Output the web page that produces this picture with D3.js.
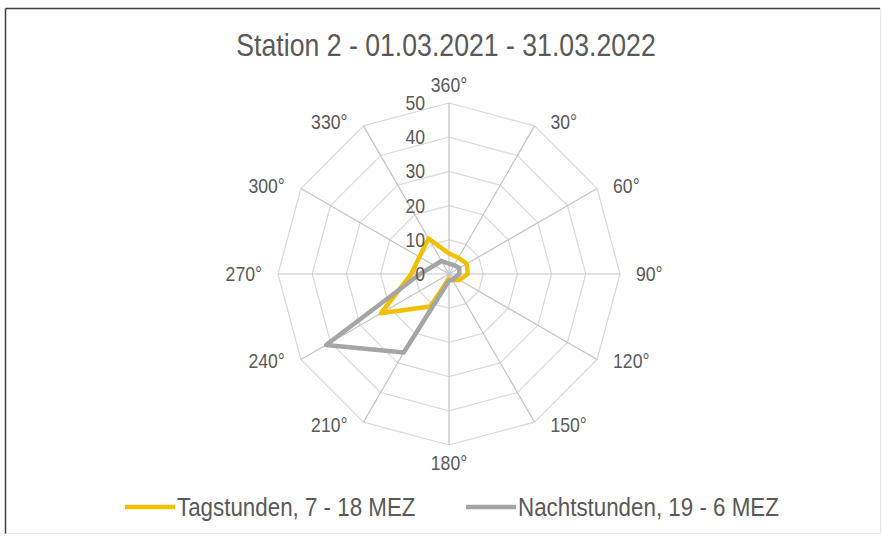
<!DOCTYPE html>
<html><head><meta charset="utf-8">
<script src="https://cdn.jsdelivr.net/npm/d3@7"></script>
<style>
html,body{margin:0;padding:0;background:#fff;}
text{font-family:"Liberation Sans",Arial,sans-serif;fill:#595959;}
</style></head>
<body>
<svg id="chart" width="882" height="538"></svg>
<script>
const title = "Station 2 - 01.03.2021 - 31.03.2022";
const directions = ["360°","30°","60°","90°","120°","150°","180°","210°","240°","270°","300°","330°"];
const radialTicks = [0, 10, 20, 30, 40, 50];
const seriesNames = ["Tagstunden, 7 - 18 MEZ", "Nachtstunden, 19 - 6 MEZ"];
const tagValues   = [6, 5.5, 6, 5.5, 3.5, 2, 1.5, 11, 23, 11, 10, 12];
const nachtValues = [3, 3, 3.5, 3, 2, 2, 2, 26.5, 41.5, 8.5, 5, 4.4];
const seriesColors = ["#F2C000", "#A5A5A5"];

const svg = d3.select("#chart");
const cx = 449, cy = 274, R = 171;

// narrow-looking text helper (horizontal squeeze)
function addText(x, y, str, size, anchor, k) {
  return svg.append("text")
    .attr("transform", `translate(${x},${y}) scale(${k},1)`)
    .attr("text-anchor", anchor).attr("dominant-baseline", "central")
    .style("font-size", size + "px").text(str);
}

// frame
svg.append("line").attr("x1",5.5).attr("y1",8.5).attr("x2",880).attr("y2",8.5).attr("stroke","#404040").attr("stroke-width",1.5);
svg.append("line").attr("x1",5.5).attr("y1",8.5).attr("x2",5.5).attr("y2",534).attr("stroke","#404040").attr("stroke-width",1.5);
svg.append("line").attr("x1",880.5).attr("y1",8.5).attr("x2",880.5).attr("y2",534).attr("stroke","#e6e6e6").attr("stroke-width",1);
svg.append("line").attr("x1",5.5).attr("y1",533.5).attr("x2",880.5).attr("y2",533.5).attr("stroke","#e6e6e6").attr("stroke-width",1);

const angle = d3.scalePoint().domain(directions).range([0, 330]);
const r = d3.scaleLinear().domain([0, 50]).range([0, R]);
const pt = (dir, v) => {
  const a = angle(dir) * Math.PI / 180;
  return [cx + r(v) * Math.sin(a), cy - r(v) * Math.cos(a)];
};

const g = svg.append("g");
// rings
radialTicks.slice(1).forEach(t => {
  g.append("path")
    .attr("d", d3.line()(directions.map(d => pt(d, t))) + "Z")
    .attr("fill", "none").attr("stroke", "#dadada").attr("stroke-width", 1.2);
});
// spokes
directions.forEach(d => {
  const [x, y] = pt(d, 50);
  g.append("line").attr("x1", cx).attr("y1", cy).attr("x2", x).attr("y2", y)
    .attr("stroke", "#c4c4c4").attr("stroke-width", 1.2);
});

// series
const lineGen = d3.line().curve(d3.curveLinearClosed);
[tagValues, nachtValues].forEach((vals, i) => {
  g.append("path")
    .attr("d", lineGen(directions.map((d, j) => pt(d, vals[j]))))
    .attr("fill", "none").attr("stroke", seriesColors[i])
    .attr("stroke-width", 4.5).attr("stroke-linejoin", "round");
});

// radial tick labels
radialTicks.forEach(t => addText(cx - 24, cy - r(t), String(t), 20, "end", 0.88));

// direction labels
directions.forEach(d => {
  const a = angle(d) * Math.PI / 180;
  const [x, y] = pt(d, 50);
  const sx = Math.sin(a), sy = -Math.cos(a);
  if (Math.abs(sx) < 0.01) {
    addText(x, y + (sy < 0 ? -18 : 18), d, 20, "middle", 0.88);
  } else {
    addText(x + (sx > 0 ? 16 : -16), y + sy * 4, d, 20, sx > 0 ? "start" : "end", 0.88);
  }
});

// title
addText(446, 45, title, 31, "middle", 0.86);

// legend
const legendX = [125, 466];
seriesNames.forEach((n, i) => {
  svg.append("line").attr("x1", legendX[i]).attr("x2", legendX[i] + 50)
    .attr("y1", 507).attr("y2", 507).attr("stroke", seriesColors[i]).attr("stroke-width", 4.5);
  addText(legendX[i] + 52, 507, n, 26, "start", 0.86);
});
</script>
</body></html>
